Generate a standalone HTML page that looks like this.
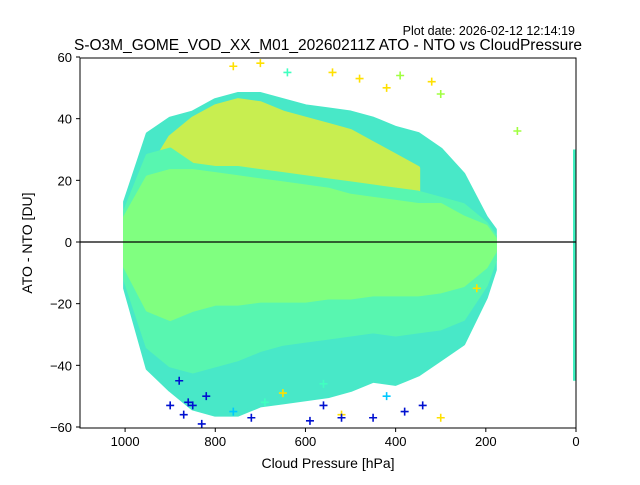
<!DOCTYPE html>
<html><head><meta charset="utf-8"><style>
body{margin:0;background:#fff;}
svg text{font-family:"Liberation Sans","DejaVu Sans",sans-serif;}
</style></head><body>
<svg id="chart" width="640" height="480" viewBox="0 0 640 480" xmlns="http://www.w3.org/2000/svg">
<text x="575" y="35" font-size="12.5" text-anchor="end">Plot date: 2026-02-12 12:14:19</text>
<text x="328" y="50" font-size="15.5" text-anchor="middle">S-O3M_GOME_VOD_XX_M01_20260211Z ATO - NTO vs CloudPressure</text>
<g id="marks"></g>
<line x1="80" x2="576" y1="242" y2="242" stroke="#000" stroke-width="1.2"/>
<rect x="80" y="58" width="496" height="370" fill="none" stroke="#000" stroke-width="1"/>
<g id="axes"></g>
<text x="328" y="468" font-size="14" text-anchor="middle">Cloud Pressure [hPa]</text>
<text x="32" y="243" font-size="14" text-anchor="middle" transform="rotate(-90 32 243)">ATO - NTO [DU]</text>
</svg>
<script>
const pressure=[1000,950,900,850,800,750,700,650,600,550,500,450,400,350,300,250,200,180];
const outerUpper=[13,35,40,42,46,48,48,46,44,43,42,40,37,35,30,22,8,4];
const outerLower=[-15,-41,-48,-54,-56,-56,-53,-52,-51,-50,-48,-45,-46,-43,-38,-33,-18,-9];
const yellowUpper=[0,22,34,40,44,46,45,42,40,38,36,32,28,24,0,0,0,0];
const yellowLower=[0,18,22,22,22,20,19,18,18,18,17,16,14,12,0,0,0,0];
const midUpper=[10,28,30,25,24,24,23,22,21,20,19,18,17,16,14,12,6,2];
const midLower=[-12,-34,-40,-42,-40,-38,-35,-33,-32,-31,-30,-29,-30,-29,-28,-25,-14,-6];
const coreUpper=[8,21,23,23,22,21,20,19,18,17,15,14,13,12,12,8,5,1];
const coreLower=[-8,-22,-25,-22,-20,-20,-19,-19,-19,-18,-18,-17,-17,-17,-16,-14,-8,-3];
const outlierP=[870,850,830,760,720,690,650,590,560,520,450,420,380,340,300,130,860,880,820,900,760,700,640,540,480,420,390,320,300,220,520,560];
const outlierV=[-56,-53,-59,-55,-57,-52,-49,-58,-46,-56,-57,-50,-55,-53,-57,36,-52,-45,-50,-53,57,58,55,55,53,50,54,52,48,-15,-57,-53];
const outlierC=["#0010d0","#0010d0","#0010d0","#00c8ff","#0010d0","#40ffc0","#ffe000","#0010d0","#40ffc0","#ffe000","#0010d0","#00c8ff","#0010d0","#0010d0","#ffe000","#a0ff40","#0010d0","#0010d0","#0010d0","#0010d0","#ffe000","#ffe000","#40ffc0","#ffe000","#ffe000","#ffe000","#a0ff40","#ffe000","#a0ff40","#ffe000","#0010d0","#0010d0"];
const xTicks=[1000,800,600,400,200,0];
const yTicks=[-60,-40,-20,0,20,40,60];

const NS="http://www.w3.org/2000/svg";
const sx=p=>576-p*(496/1100);
const sy=v=>242-v*(370/120);
const marks=document.getElementById('marks');
const axes=document.getElementById('axes');
function band(up,lo,color,name,skipZero){
  let pts=[];
  for(let i=0;i<pressure.length;i++){if(skipZero&&up[i]===0)continue;pts.push(sx(pressure[i])+','+sy(up[i]));}
  for(let i=pressure.length-1;i>=0;i--){if(skipZero&&up[i]===0)continue;pts.push(sx(pressure[i])+','+sy(lo[i]));}
  const el=document.createElementNS(NS,'polygon');
  el.setAttribute('points',pts.join(' '));
  el.setAttribute('fill',color);
  el.setAttribute('stroke',color);
  el.setAttribute('stroke-width','4');
  el.setAttribute('stroke-linejoin','round');
  
  
  marks.appendChild(el);
}
band(outerUpper,outerLower,'#48e8c8','outer-envelope',false);
band(yellowUpper,yellowLower,'#c8ee50','yellow-upper-band',true);
band(midUpper,midLower,'#58f6b0','middle-band',false);
band(coreUpper,coreLower,'#80ff80','core-band',false);
const col=document.createElementNS(NS,'rect');
col.setAttribute('x',sx(0)-3);col.setAttribute('y',sy(30));col.setAttribute('width',3);col.setAttribute('height',sy(-45)-sy(30));
col.setAttribute('fill','#40f0c0');


marks.appendChild(col);
for(let i=0;i<outlierP.length;i++){
  const x=sx(outlierP[i]),y=sy(outlierV[i]);
  const g=document.createElementNS(NS,'path');
  g.setAttribute('d',`M${x-4},${y}H${x+4}M${x},${y-4}V${y+4}`);
  g.setAttribute('stroke',outlierC[i]);g.setAttribute('stroke-width','1.6');
  
  
  marks.appendChild(g);
}
xTicks.forEach(t=>{
  const x=sx(t);
  const l=document.createElementNS(NS,'line');
  l.setAttribute('x1',x);l.setAttribute('x2',x);l.setAttribute('y1',428);l.setAttribute('y2',432);l.setAttribute('stroke','#000');
  
  
  axes.appendChild(l);
  const tx=document.createElementNS(NS,'text');
  tx.setAttribute('x',x);tx.setAttribute('y',446);tx.setAttribute('font-size','13');tx.setAttribute('text-anchor','middle');
  tx.textContent=t;
  
  
  axes.appendChild(tx);
});
yTicks.forEach(t=>{
  const y=sy(t);
  const l=document.createElementNS(NS,'line');
  l.setAttribute('x1',76);l.setAttribute('x2',80);l.setAttribute('y1',y);l.setAttribute('y2',y);l.setAttribute('stroke','#000');
  
  
  axes.appendChild(l);
  const tx=document.createElementNS(NS,'text');
  tx.setAttribute('x',72);tx.setAttribute('y',y+5);tx.setAttribute('font-size','13');tx.setAttribute('text-anchor','end');
  tx.textContent=t===0?'0':(t<0?'\u2212'+(-t):t);
  
  
  axes.appendChild(tx);
});
</script>
</body></html>
